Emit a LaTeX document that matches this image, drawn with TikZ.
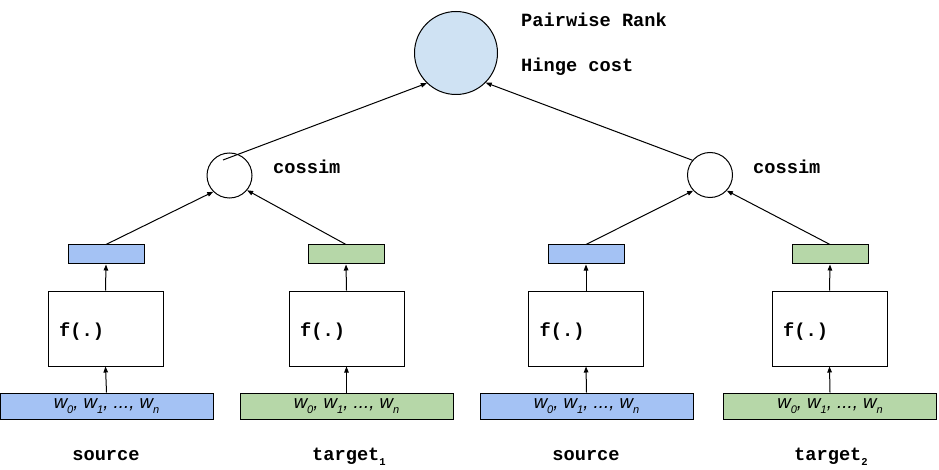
\documentclass[tikz,border=0pt]{standalone}
\usepackage{fontspec}
\setmainfont{Liberation Sans}
\newfontfamily\labelfont{Liberation Mono}
\usetikzlibrary{arrows.meta}
\definecolor{boxblue}{HTML}{A4C2F4}
\definecolor{boxgreen}{HTML}{B6D7A8}
\definecolor{topblue}{HTML}{CFE2F3}
\tikzset{
  lbl/.style={font=\labelfont\bfseries\fontsize{18.67}{20}\selectfont, inner sep=0pt},
  wordbox/.style={draw=black, line width=1pt, minimum width=213pt, minimum height=26pt, inner sep=0pt,
    font=\itshape\fontsize{18.67}{20}\selectfont},
  fbox/.style={draw=black, line width=1pt, fill=white, minimum width=115pt, minimum height=75pt, inner sep=0pt},
  smallbox/.style={draw=black, line width=1pt, minimum width=76pt, minimum height=19pt, inner sep=0pt},
  smallcirc/.style={draw=black, line width=1pt, circle, minimum size=45pt, inner sep=0pt},
  arr/.style={-{Triangle[length=6pt,width=4.5pt]}, line width=1pt},
}
\newcommand{\wsub}[1]{\raisebox{-4.5pt}{\fontsize{11}{11}\selectfont #1}}
\newcommand{\lblsub}[1]{\raisebox{-5pt}{\fontsize{10.5}{11}\selectfont #1}}
\newcommand{\wseq}{w\wsub{0}, w\wsub{1}, ..., w\wsub{n}}
\begin{document}
\begin{tikzpicture}[x=1pt,y=-1pt]
\useasboundingbox (0,0) rectangle (939,470);
% top
\node[draw=black, line width=1pt, circle, fill=topblue, minimum size=83pt, inner sep=0pt] (big) at (456,53) {};
\node[lbl, anchor=base west] (pr) at (521,27) {Pairwise Rank};
\node[lbl, anchor=base west] (hc) at (521,72) {Hinge cost};
% cossim circles
\node[smallcirc] (c1) at (229.5,175.5) {};
\node[smallcirc] (c2) at (710,175) {};
\node[lbl, anchor=base west] (cs1) at (273,174) {cossim};
\node[lbl, anchor=base west] (cs2) at (753,174) {cossim};
% small rects
\node[smallbox, fill=boxblue] (s1) at (106,254.5) {};
\node[smallbox, fill=boxgreen] (s2) at (346,254.5) {};
\node[smallbox, fill=boxblue] (s3) at (586,254.5) {};
\node[smallbox, fill=boxgreen] (s4) at (830,254.5) {};
% f boxes
\node[fbox] (f1) at (105.5,328.5) {};
\node[fbox] (f2) at (346.5,328.5) {};
\node[fbox] (f3) at (586,328.5) {};
\node[fbox] (f4) at (829.5,328.5) {};
\foreach \i in {1,2,3,4}{
  \node[lbl, anchor=base west] (ft\i) at ([xshift=11.5pt,yshift=-7.5pt]f\i.west) {f(.)};
}
% word boxes
\node[wordbox, fill=boxblue] (w1) at (106.5,406) {\wseq};
\node[wordbox, fill=boxgreen] (w2) at (346.5,406) {\wseq};
\node[wordbox, fill=boxblue] (w3) at (586.5,406) {\wseq};
\node[wordbox, fill=boxgreen] (w4) at (830,406) {\wseq};
% bottom labels
\node[lbl, anchor=base] (l1) at (106,460) {source};
\node[lbl, anchor=base west] (l2) at (312,460) {target\lblsub{1}};
\node[lbl, anchor=base] (l3) at (586,460) {source};
\node[lbl, anchor=base west] (l4) at (794,460) {target\lblsub{2}};
% connectors
\foreach \i in {1,2,3,4}{
  \draw[arr] (w\i.north) -- (f\i.south);
  \draw[arr] (f\i.north) -- (s\i.south);
}
\draw[arr] (s1.north) -- (c1.-135);
\draw[arr] (s2.north) -- (c1.-40);
\draw[arr] (s3.north) -- (c2.-137);
\draw[arr] (s4.north) -- (c2.-43);
\coordinate (c1s) at (223,160);
\draw[arr] (c1s) -- (big.-134);
\draw[arr] (c2.140) -- (big.-45);
\end{tikzpicture}
\end{document}
